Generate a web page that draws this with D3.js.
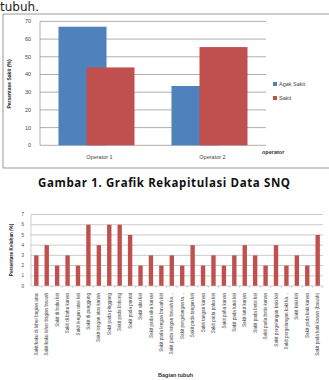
<!DOCTYPE html>
<html>
<head>
<meta charset="utf-8">
<script src="https://cdn.jsdelivr.net/npm/d3@7"></script>
<style>
  body { margin: 0; background: #fff; }
  text { font-family: "Liberation Sans", Arial, sans-serif; }
</style>
</head>
<body>
<div id="plot_div"></div>
<script>
const width  = 329;
const height = 380;

// chart 1 data
const operators = ["Operator 1", "Operator 2"];
const series    = ["Agak Sakit", "Sakit"];
const agak      = [67, 33.5];
const sakit     = [44, 55.5];
const ticks1    = [0, 10, 20, 30, 40, 50, 60, 70];
const colors    = ["#4F81BD", "#C0504D"];

// chart 2 data
const parts = [
  "Sakit/kaku di leher bagian atas",
  "Sakit/kaku leher bagian bawah",
  "Sakit di bahu kiri",
  "Sakit di bahu kanan",
  "Sakit lengan atas kiri",
  "Sakit di punggung",
  "Sakit lengan atas kanan",
  "Sakit pada pinggang",
  "Sakit pada bokong",
  "Sakit pada pantat",
  "Sakit siku kiri",
  "Sakit pada siku kanan",
  "Sakit pada lengan bawah kiri",
  "Sakit pada lengan bawah ka...",
  "Sakit pergelangan ta...",
  "Sakit pada tangan kiri",
  "Sakit tangan kanan",
  "Sakit pada paha kiri",
  "Sakit paha kanan",
  "Sakit pada lutut kiri",
  "Sakit lutut kanan",
  "Sakit pada betis kiri",
  "Sakit pada betis kanan",
  "Sakit pergelangan kaki kiri",
  "Sakit pergelangan kaki ka...",
  "Sakit kaki kiri",
  "Sakit pada kaki kanan",
  "Sakit pada kaki kanan (bawah)"
];
const keluhan = [3, 4, 2, 3, 2, 6, 4, 6, 6, 5, 2, 3, 2, 3, 2, 4, 2, 3, 2, 3, 4, 3, 2, 4, 2, 3, 2, 5];
const ticks2  = [0, 1, 2, 3, 4, 5, 6, 7];

const svg = d3.create("svg")
      .attr("width", width)
      .attr("height", height)
      .attr("viewBox", [0, 0, width, height]);

// running text above
svg.append("text")
    .attr("x", 0).attr("y", 10.5)
    .style("font-family", "DejaVu Sans")
    .style("font-size", "12px")
    .attr("fill", "#222")
    .text("tubuh.");

// -----------------------------------------//
// Chart 1
// -----------------------------------------//
svg.append("path")
    .attr("d", "M331,14H3V168H331")
    .attr("fill", "none")
    .attr("stroke", "#999")
    .attr("stroke-width", 1);

const y1 = d3.scaleLinear().domain([0, 70]).range([145.3, 21.4]);
const x1 = d3.scaleBand().domain(operators).range([40, 266]);
const sub = d3.scalePoint().domain(series).range([-14, 14]);
const bw1 = x1.bandwidth() * 0.425;

svg.append("g")
    .selectAll("line")
    .data(ticks1.slice(1))
    .join("line")
    .attr("x1", 40).attr("x2", 266)
    .attr("y1", d => y1(d)).attr("y2", d => y1(d))
    .attr("stroke", "#8c8c8c").attr("stroke-width", 0.7);

svg.append("line")
    .attr("x1", 40).attr("x2", 40)
    .attr("y1", y1(70)).attr("y2", y1(0))
    .attr("stroke", "#8c8c8c").attr("stroke-width", 0.7);
svg.append("line")
    .attr("x1", 40).attr("x2", 266)
    .attr("y1", y1(0)).attr("y2", y1(0))
    .attr("stroke", "#8c8c8c").attr("stroke-width", 0.7);

svg.append("g")
    .selectAll("text")
    .data(ticks1)
    .join("text")
    .attr("x", 31).attr("y", d => y1(d))
    .attr("dy", "0.35em")
    .attr("text-anchor", "end")
    .style("font-size", "5.5px")
    .attr("fill", "#444")
    .text(d => d);

const vals = [agak, sakit];
series.forEach((s, si) => {
    svg.append("g")
        .selectAll("rect")
        .data(operators)
        .join("rect")
        .attr("x", (d, i) => x1(d) + x1.bandwidth() / 2 + sub(s) - bw1 / 2)
        .attr("width", bw1)
        .attr("y", (d, i) => y1(vals[si][i]))
        .attr("height", (d, i) => y1(0) - y1(vals[si][i]))
        .attr("fill", colors[si]);
});

svg.append("g")
    .selectAll("text")
    .data(operators)
    .join("text")
    .attr("x", d => x1(d) + x1.bandwidth() / 2 + 3)
    .attr("y", 159)
    .attr("text-anchor", "middle")
    .style("font-size", "5.5px")
    .attr("fill", "#444")
    .text(d => d);

svg.append("text")
    .attr("x", 262).attr("y", 153.5)
    .style("font-size", "5.5px")
    .style("font-weight", "bold")
    .attr("fill", "#333")
    .text("operator");

svg.append("text")
    .attr("transform", "translate(11,84) rotate(-90)")
    .attr("text-anchor", "middle")
    .style("font-size", "5px")
    .style("font-weight", "bold")
    .attr("fill", "#222")
    .text("Persentase Sakit (%)");

const legend = svg.append("g")
    .selectAll("g")
    .data(series)
    .join("g")
    .attr("transform", (d, i) => `translate(275,${84 + i * 14})`);
legend.append("rect")
    .attr("x", -2).attr("y", -2).attr("width", 4).attr("height", 4)
    .attr("fill", (d, i) => colors[i]);
legend.append("text")
    .attr("x", 4).attr("dy", "0.35em")
    .style("font-size", "5.5px")
    .attr("fill", "#444")
    .text(d => d);

// caption
svg.append("text")
    .attr("x", 164).attr("y", 187)
    .attr("text-anchor", "middle")
    .attr("textLength", 252)
    .style("font-family", "Open Sans")
    .style("font-size", "11.5px")
    .style("font-weight", "bold")
    .attr("fill", "#111")
    .text("Gambar 1. Grafik Rekapitulasi Data SNQ");

// -----------------------------------------//
// Chart 2
// -----------------------------------------//
const y2 = d3.scaleLinear().domain([0, 7]).range([286, 214.5]);
const x2 = d3.scaleBand().domain(parts).range([31, 323]).paddingInner(0.58).paddingOuter(0.3);

svg.append("g")
    .selectAll("line")
    .data(ticks2.slice(1))
    .join("line")
    .attr("x1", 31).attr("x2", 323)
    .attr("y1", d => y2(d)).attr("y2", d => y2(d))
    .attr("stroke", "#bdbdbd").attr("stroke-width", 0.8);

svg.append("line")
    .attr("x1", 31).attr("x2", 31)
    .attr("y1", y2(7)).attr("y2", y2(0))
    .attr("stroke", "#bdbdbd").attr("stroke-width", 0.7);

svg.append("g")
    .selectAll("text")
    .data(ticks2)
    .join("text")
    .attr("x", 24).attr("y", d => y2(d))
    .attr("dy", "0.35em")
    .attr("text-anchor", "end")
    .style("font-size", "4.5px")
    .attr("fill", "#444")
    .text(d => d);

svg.append("g")
    .selectAll("rect")
    .data(parts)
    .join("rect")
    .attr("x", d => x2(d))
    .attr("width", x2.bandwidth())
    .attr("y", (d, i) => y2(keluhan[i]))
    .attr("height", (d, i) => y2(0) - y2(keluhan[i]))
    .attr("fill", "#C0504D");

// x axis line and ticks
svg.append("line")
    .attr("x1", 31).attr("x2", 323)
    .attr("y1", y2(0)).attr("y2", y2(0))
    .attr("stroke", "#bdbdbd").attr("stroke-width", 0.7);
const step = x2.step();
svg.append("g")
    .selectAll("line")
    .data(parts)
    .join("line")
    .attr("x1", d => x2(d) + x2.bandwidth() / 2 + step / 2)
    .attr("x2", d => x2(d) + x2.bandwidth() / 2 + step / 2)
    .attr("y1", y2(0)).attr("y2", y2(0) + 2)
    .attr("stroke", "#bbb").attr("stroke-width", 0.6);

svg.append("g")
    .selectAll("text")
    .data(parts)
    .join("text")
    .attr("transform", d => `translate(${x2(d) + x2.bandwidth() / 2},293) rotate(-90)`)
    .attr("dy", "0.35em")
    .attr("text-anchor", "end")
    .style("font-size", "4.6px")
    .attr("fill", "#444")
    .text(d => d);

svg.append("text")
    .attr("transform", "translate(13,250) rotate(-90)")
    .attr("text-anchor", "middle")
    .style("font-size", "4.6px")
    .style("font-weight", "bold")
    .attr("fill", "#222")
    .text("Persentase Keluhan (%)");

svg.append("text")
    .attr("x", 158).attr("y", 377)
    .style("font-size", "5.5px")
    .style("font-weight", "bold")
    .attr("fill", "#333")
    .text("Bagian tubuh");

plot_div.append(svg.node());
</script>
</body>
</html>
